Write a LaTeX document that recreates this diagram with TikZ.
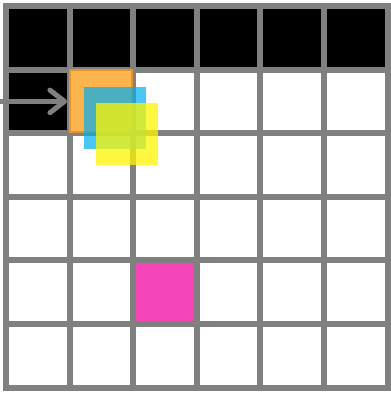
\documentclass[tikz,border=0pt]{standalone}
\usetikzlibrary{arrows.meta}

\definecolor{gridgray}{RGB}{128,128,128}
\definecolor{sqorange}{RGB}{253,180,76}
\definecolor{sqorangedark}{RGB}{232,146,42}
\definecolor{sqcyan}{RGB}{0,174,239}
\definecolor{sqyellow}{RGB}{255,245,0}
\definecolor{sqpink}{RGB}{244,69,185}

\begin{document}
\begin{tikzpicture}[x=0.75pt,y=-0.75pt,
    gridline/.style={draw=gridgray, line width=4.5pt, line cap=rect},
    sq/.style={minimum size=46.5pt, inner sep=0pt, outer sep=0pt}]
    \useasboundingbox (0,0) rectangle (391,394);

    % Black cells
    \fill[black] (6,6) rectangle (387.6,69.6);
    \fill[black] (6,69.6) rectangle (69.6,133.2);

    % Grid
    \foreach \i in {0,...,6} {
        \draw[gridline] (6+63.6*\i,6) -- (6+63.6*\i,387.6);
        \draw[gridline] (6,6+63.6*\i) -- (387.6,6+63.6*\i);
    }

    % Squares
    \node[sq, fill=sqorange, draw=sqorangedark, line width=1.5pt] (orange) at (101.4,101.4) {};
    \node[sq, fill=sqcyan, fill opacity=0.7] (cyan) at (115,117.5) {};
    \node[sq, fill=sqyellow, fill opacity=0.75] (yellow) at (127,133.5) {};
    \node[sq, fill=sqpink, minimum size=43.5pt] (pink) at (165,292.2) {};

    % Arrow
    \coordinate (start) at (0,101.4);
    \draw[-{Straight Barb[length=11pt,width=17pt,round]}, gridgray, line width=3.75pt, line cap=round]
        (start) -- ([xshift=-2.5pt]orange.west);
\end{tikzpicture}
\end{document}
